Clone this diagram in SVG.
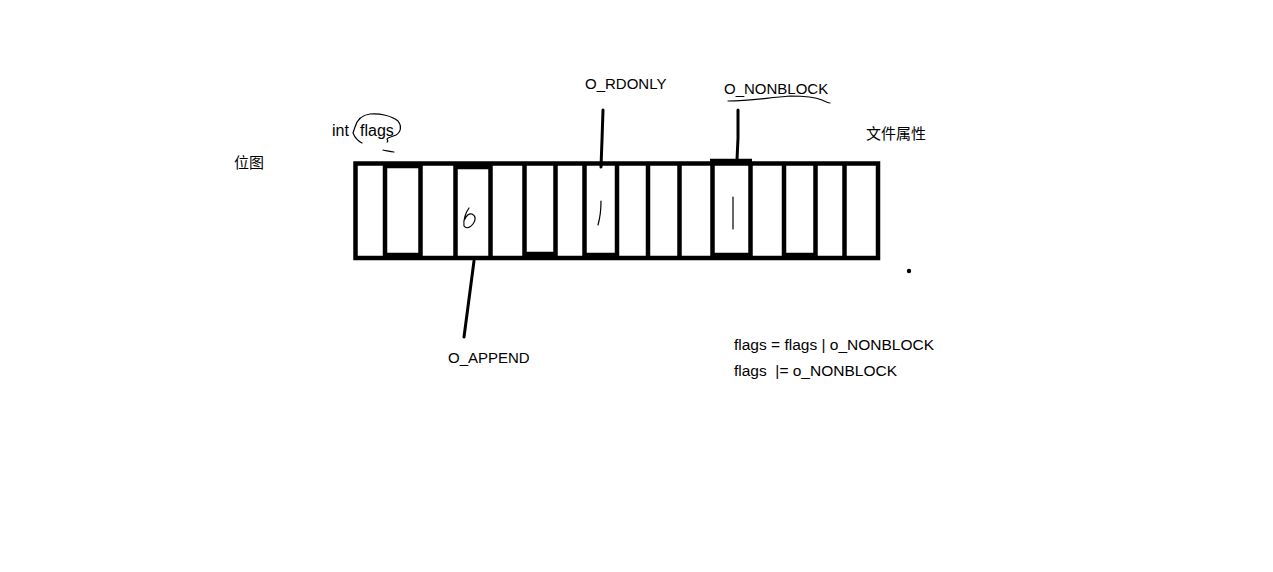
<svg xmlns="http://www.w3.org/2000/svg" width="1273" height="572" viewBox="0 0 1273 572">
<style>
.t{font-family:"Liberation Sans","Noto Sans CJK SC",sans-serif;font-size:15px;fill:#000;white-space:pre}
.b{stroke:#000;stroke-width:4.5;fill:none}
.p{stroke:#000;stroke-width:3;fill:none;stroke-linecap:round}
.h{stroke:#000;stroke-width:1.2;fill:none;stroke-linecap:round}
</style>
<rect width="1273" height="572" fill="#fff"/>
<g id="labels">
<text class="t" x="234" y="168">位图</text>
<text class="t" x="332" y="136" style="font-size:16px">int <tspan x="360">flags</tspan></text>
<text class="t" x="585" y="89">O_RDONLY</text>
<text class="t" x="724" y="94">O_NONBLOCK</text>
<text class="t" x="866" y="139">文件属性</text>
<text class="t" x="448" y="363">O_APPEND</text>
<text class="t" x="734" y="350" style="font-size:15.5px">flags = flags | o_NONBLOCK</text>
<text class="t" x="734" y="376" style="font-size:15.5px">flags  |= o_NONBLOCK</text>
</g>
<g id="bitmap">
<rect class="b" x="355.5" y="163.5" width="522.5" height="94.5"/>
<g stroke="#000" stroke-width="4.5">
<line x1="385" y1="164" x2="385" y2="258"/>
<line x1="420.5" y1="164" x2="420.5" y2="258"/>
<line x1="455.5" y1="164" x2="455.5" y2="258"/>
<line x1="490.5" y1="164" x2="490.5" y2="258"/>
<line x1="524.5" y1="164" x2="524.5" y2="258"/>
<line x1="555.5" y1="164" x2="555.5" y2="258"/>
<line x1="584.5" y1="164" x2="584.5" y2="258"/>
<line x1="617" y1="164" x2="617" y2="258"/>
<line x1="648" y1="164" x2="648" y2="258"/>
<line x1="679.5" y1="164" x2="679.5" y2="258"/>
<line x1="712.5" y1="162" x2="712.5" y2="258"/>
<line x1="750.5" y1="162" x2="750.5" y2="258"/>
<line x1="784" y1="164" x2="784" y2="258"/>
<line x1="815.5" y1="164" x2="815.5" y2="258"/>
<line x1="844.5" y1="164" x2="844.5" y2="260"/>
<line x1="385" y1="166" x2="420" y2="166"/>
<line x1="385" y1="255" x2="420" y2="255"/>
<line x1="455" y1="167" x2="490" y2="167"/>
<line x1="524" y1="254" x2="555" y2="254"/>
<line x1="584" y1="255" x2="617" y2="255"/>
<line x1="710" y1="161" x2="752" y2="161"/>
<line x1="712" y1="255" x2="750" y2="255"/>
<line x1="784" y1="255" x2="815" y2="255"/>
</g>
<path class="h" d="M469,208 C466,212 463,220 464,226 C466,229 470,228 473,224 C476,220 476,216 472,214 C469,213 466,216 465,219"/>
<path class="h" d="M601,201 C601,210 600,218 598,225"/>
<line class="h" x1="733" y1="197" x2="733" y2="229"/>
</g>
<g id="connectors">
<path class="p" d="M603,110 L602,140 L601,167"/>
<path class="p" d="M738,110 L738,138 L737,160"/>
<line class="p" x1="474" y1="261" x2="464" y2="337"/>
<path class="h" d="M728,101 C750,101 765,98 790,96 C805,96 815,97 822,100 C826,102 828,103 830,103"/>
<path class="h" d="M355,127 C357,120 362,115 370,114 C380,113 392,116 398,121 C402,126 401,132 396,135 C392,137 388,137 387,139 C388,141 388,142 387,142 M355,127 L353,133 C355,138 358,141 362,143 M383,150 C388,151 391,152 394,152"/>
<circle cx="909" cy="271" r="2.2" fill="#000"/>
</g>
</svg>
